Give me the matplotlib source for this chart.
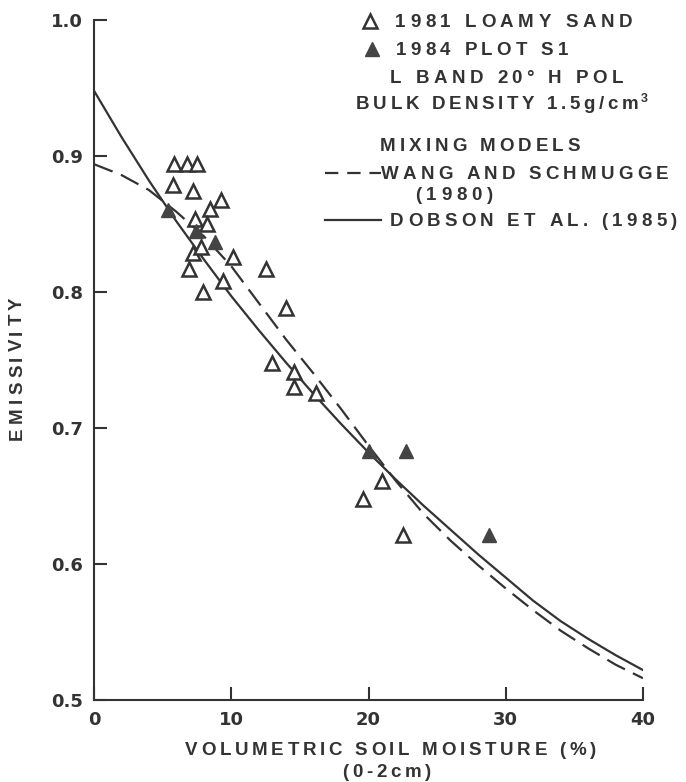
import matplotlib
matplotlib.use("Agg")
import matplotlib.pyplot as plt
from matplotlib.lines import Line2D
from matplotlib.textpath import TextToPath
from matplotlib.font_manager import FontProperties

# model curves
moist = [0, 2, 4, 6, 8, 10, 12, 14, 16, 18, 20, 22, 24, 26, 28, 30, 32, 34, 36, 38, 40]
dobson = [0.948, 0.914, 0.882, 0.852, 0.824, 0.797, 0.772, 0.748, 0.725, 0.703, 0.682,
          0.662, 0.643, 0.625, 0.607, 0.590, 0.573, 0.558, 0.545, 0.533, 0.522]
wang = [0.894, 0.886, 0.875, 0.859, 0.841, 0.819, 0.792, 0.765, 0.740, 0.714, 0.687,
        0.661, 0.637, 0.617, 0.599, 0.582, 0.566, 0.551, 0.538, 0.526, 0.516]

# 1981 loamy sand (open triangles)
x81 = [5.83, 6.8, 7.48, 5.73, 7.24, 8.45, 9.23, 7.36, 8.24, 7.18, 7.78, 6.95, 10.1, 9.38,
       7.97, 12.5, 13.97, 12.95, 14.58, 14.6, 16.18, 20.97, 19.58, 22.55]
e81 = [0.894, 0.894, 0.894, 0.879, 0.874, 0.861, 0.868, 0.854, 0.850, 0.829, 0.833, 0.817,
       0.826, 0.808, 0.800, 0.817, 0.788, 0.748, 0.741, 0.730, 0.726, 0.661, 0.648, 0.621]

# 1984 plot S1 (filled triangles)
x84 = [5.42, 7.43, 8.82, 20.0, 22.74, 28.8]
e84 = [0.860, 0.845, 0.837, 0.683, 0.683, 0.621]

xticks = [0, 10, 20, 30, 40]
yticks = [0.5, 0.6, 0.7, 0.8, 0.9, 1.0]

W, H, DPI = 686, 782, 100
INK = '#333333'

fig = plt.figure(figsize=(W / DPI, H / DPI), dpi=DPI)
ax = fig.add_axes([94 / W, 82 / H, 549 / W, 680 / H])

ax.plot(moist, dobson, color=INK, lw=1.6)
ax.plot(moist, wang, color=INK, lw=1.6, dashes=(9, 4))
ax.plot(x81, e81, ls='none', marker='^', ms=10, mfc='white', mec=INK, mew=1.8)
ax.plot(x84, e84, ls='none', marker='^', ms=10, mfc='#444444', mec='#444444', mew=1)

ax.set_xlim(0, 40)
ax.set_ylim(0.5, 1.0)
ax.set_xticks(xticks)
ax.set_yticks(yticks)
ax.set_xticklabels([str(t) for t in xticks])
ax.set_yticklabels(['%.1f' % t for t in yticks])
for s in ['top', 'right']:
    ax.spines[s].set_visible(False)
for s in ['left', 'bottom']:
    ax.spines[s].set_linewidth(1.5)
    ax.spines[s].set_color(INK)
ax.tick_params(direction='in', length=9.5, width=1.5, color=INK, labelcolor=INK, pad=8)
for lab in ax.get_xticklabels() + ax.get_yticklabels():
    lab.set_fontfamily('DejaVu Sans')
    lab.set_fontweight('bold')
    lab.set_fontsize(13)

# letter-spaced text, like the lettering of the original
t2p = TextToPath()
FP = FontProperties(family='Liberation Sans', weight='bold', size=13.5)
SUP = FontProperties(family='Liberation Sans', weight='bold', size=9)


def char_w(c):
    a = t2p.get_text_width_height_descent('H' + c + 'H', FP, ismath=False)[0]
    b = t2p.get_text_width_height_descent('HH', FP, ismath=False)[0]
    return (a - b) * DPI / 72


def spaced(s, x0, x1, base, vertical=False):
    ws = [char_w(c) for c in s]
    gap = (abs(x1 - x0) - sum(ws)) / (len(s) - 1)
    pos = x0
    for c, w in zip(s, ws):
        if vertical:
            fig.text(base / W, 1 - pos / H, c, fontproperties=FP, color=INK, rotation=90,
                     rotation_mode='anchor', ha='left', va='baseline')
            pos -= w + gap
        else:
            fig.text(pos / W, 1 - base / H, c, fontproperties=FP, color=INK,
                     ha='left', va='baseline')
            pos += w + gap


spaced('1981 LOAMY SAND', 395, 632, 27)
spaced('1984 PLOT S1', 396, 568, 55)
spaced('L BAND 20° H POL', 390, 623, 83)
spaced('BULK DENSITY 1.5g/cm', 356, 638, 109)
fig.text(641 / W, 1 - 102 / H, '3', fontproperties=SUP, color=INK, ha='left', va='baseline')
spaced('MIXING MODELS', 380, 580, 151)
spaced('WANG AND SCHMUGGE', 381, 668, 179)
spaced('(1980)', 415, 493, 200)
spaced('DOBSON ET AL. (1985)', 390, 677, 226)

spaced('VOLUMETRIC SOIL MOISTURE (%)', 185, 596, 755)
spaced('(0-2cm)', 342, 431, 777)
spaced('EMISSIVITY', 440, 297, 22, vertical=True)

# legend keys
fig.add_artist(Line2D([370 / W], [1 - 21 / H], marker='^', ms=10, mfc='white', mec=INK,
                      mew=1.8, transform=fig.transFigure))
fig.add_artist(Line2D([372 / W], [1 - 49 / H], marker='^', ms=10, mfc='#444444',
                      mec='#444444', transform=fig.transFigure))
fig.add_artist(Line2D([325 / W, 381 / W], [1 - 173 / H, 1 - 173 / H], color=INK, lw=1.6,
                      dashes=(6, 4), transform=fig.transFigure))
fig.add_artist(Line2D([325 / W, 381 / W], [1 - 220 / H, 1 - 220 / H], color=INK, lw=1.6,
                      transform=fig.transFigure))

fig.savefig('out.png', dpi=DPI, facecolor='white')
